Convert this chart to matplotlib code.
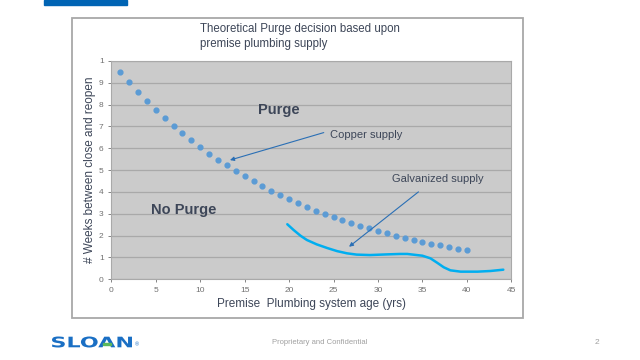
import matplotlib
matplotlib.use("Agg")
import matplotlib.pyplot as plt
from matplotlib.patches import Rectangle, PathPatch
from matplotlib.textpath import TextPath
from matplotlib.font_manager import FontProperties
from matplotlib.transforms import Affine2D, IdentityTransform

plt.rcParams['font.family'] = ['Liberation Sans', 'DejaVu Sans']

# copper supply: one point per year of age
copper_age = list(range(1, 41))
copper_weeks = [9.50, 9.02, 8.58, 8.17, 7.77, 7.39, 7.03, 6.69, 6.36, 6.05,
                5.73, 5.46, 5.21, 4.95, 4.73, 4.48, 4.27, 4.04, 3.84, 3.66,
                3.48, 3.31, 3.14, 3.00, 2.85, 2.70, 2.59, 2.45, 2.33, 2.23,
                2.12, 2.00, 1.91, 1.81, 1.72, 1.63, 1.55, 1.48, 1.40, 1.33]

# galvanized supply curve
galv_age = [19.8, 20.5, 21.3, 22.0, 23.1, 24.3, 25.4, 26.5, 27.6, 29.1,
            31.0, 32.5, 33.3, 35.0, 35.9, 36.65, 37.4, 38.15, 39.3, 41.2,
            42.65, 44.1]
galv_weeks = [2.52, 2.26, 1.99, 1.80, 1.60, 1.43, 1.29, 1.19, 1.13, 1.11,
              1.14, 1.16, 1.16, 1.08, 0.96, 0.76, 0.55, 0.41, 0.35, 0.35,
              0.38, 0.44]

x_ticks = [0, 5, 10, 15, 20, 25, 30, 35, 40, 45]
y_ticks = list(range(0, 11))
y_labels = [str(v) for v in range(10)] + ['1']

text_col = '#3d4658'

fig = plt.figure(figsize=(6.4, 3.6), dpi=100)

# slide decorations
fig.patches.append(Rectangle((44 / 640, 1 - 5 / 360), 83 / 640, 5 / 360,
                             transform=fig.transFigure, color='#0064b4'))
fig.patches.append(Rectangle((71.5 / 640, 1 - 317.5 / 360), 451.5 / 640, 299.5 / 360,
                             transform=fig.transFigure, fill=False,
                             edgecolor='#a8a8a8', linewidth=1.3))

ax = fig.add_axes([111.3 / 640, 1 - 279.3 / 360, 400 / 640, 218.5 / 360])
ax.set_facecolor('#cbcbcb')
ax.set_xlim(0, 45)
ax.set_ylim(0, 10)
ax.set_xticks(x_ticks)
ax.set_yticks(y_ticks)
ax.set_yticklabels(y_labels)
ax.tick_params(labelsize=6, colors='#707070', length=2, width=0.6)
ax.grid(axis='y', color='#a9a9a9', linewidth=0.9)
ax.set_axisbelow(True)
for s in ax.spines.values():
    s.set_color('#a9a9a9')

ax.scatter(copper_age, copper_weeks, s=12, color='#5b9bd5', zorder=3)
ax.plot(galv_age, galv_weeks, color='#00aef0', linewidth=1.8, zorder=3,
        solid_joinstyle='round', solid_capstyle='round')

ax.text(16.5, 7.75, 'Purge', fontsize=10.5, fontweight='bold', color=text_col, va='center')
ax.text(4.5, 3.16, 'No Purge', fontsize=10.5, fontweight='bold', color=text_col, va='center')

ax.annotate('', xy=(13.05, 5.42), xytext=(24.2, 6.75),
            arrowprops=dict(arrowstyle='-|>', color='#2a6fb5', lw=0.8, mutation_scale=6))
ax.text(24.6, 6.6, 'Copper supply', fontsize=8, color=text_col, va='center')
ax.annotate('', xy=(26.5, 1.41), xytext=(34.8, 4.08),
            arrowprops=dict(arrowstyle='-|>', color='#2a6fb5', lw=0.8, mutation_scale=6))
ax.text(31.6, 4.58, 'Galvanized supply', fontsize=8, color=text_col, va='center')

ax.set_xlabel('Premise  Plumbing system age (yrs)', fontsize=8.5, color=text_col, labelpad=3)
ax.set_ylabel('# Weeks between close and reopen', fontsize=8.5, color=text_col, labelpad=2)

fig.text(200 / 640, 1 - 36.5 / 360, 'Theoretical Purge decision based upon\npremise plumbing supply',
         fontsize=8.3, color=text_col, va='center', ha='left', linespacing=1.3)

# footer: wide SLOAN logo stretched into its box (pixel coordinates)
tp = TextPath((0, 0), 'SLOAN', size=10, prop=FontProperties(family='DejaVu Sans', weight='bold'))
ext = tp.get_extents()
logo_tr = (Affine2D().translate(-ext.x0, -ext.y0)
           .scale(80 / ext.width, 11 / ext.height)
           .translate(52, 360 - 347.5))
fig.patches.append(PathPatch(tp, transform=logo_tr + IdentityTransform(),
                             color='#1a6fc4', lw=0))
fig.patches.append(Rectangle((103 / 640, 1 - 344.5 / 360), 8 / 640, 2 / 360,
                             transform=fig.transFigure, color='#5cb85c'))
fig.text(135 / 640, 1 - 345 / 360, '®', fontsize=4, color='#1a6fc4', va='center', ha='left')
fig.text(320 / 640, 1 - 343 / 360, 'Proprietary and Confidential', fontsize=5.5,
         color='#a0a0a0', va='center', ha='center')
fig.text(597 / 640, 1 - 343 / 360, '2', fontsize=6, color='#a0a0a0', va='center', ha='center')

fig.savefig('out.png', dpi=100)
